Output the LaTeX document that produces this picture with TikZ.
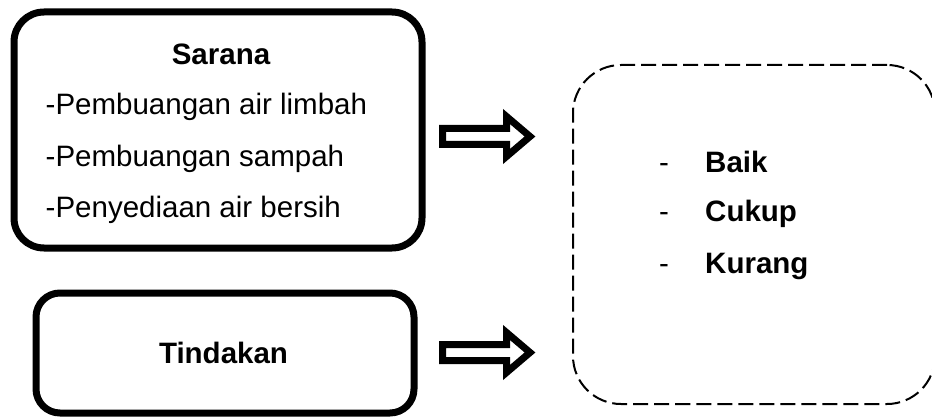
\documentclass[tikz,border=0pt]{standalone}
\usepackage{fontspec}
\setmainfont{Liberation Sans}
\begin{document}
\begin{tikzpicture}[x=1pt,y=-1pt,
  solidbox/.style={draw=black, line width=7pt, rounded corners=#1, inner sep=0pt},
  dashbox/.style={draw=black, line width=2pt, dash pattern=on 15pt off 6pt, rounded corners=48pt, inner sep=0pt},
  txt/.style={font=\fontsize{29.5}{34}\selectfont, inner sep=0pt, anchor=base west},
  btxt/.style={font=\fontsize{29.5}{34}\selectfont\bfseries, inner sep=0pt},
  blockarrow/.style={draw=black, fill=white, line width=7pt, miter limit=10}]
\useasboundingbox (0,0) rectangle (932,417);
% boxes
\node[solidbox=30pt, minimum width=408pt, minimum height=236pt] (sarana) at (218,130) {};
\node[solidbox=24pt, minimum width=378pt, minimum height=120pt] (tindakan) at (225,353) {};
\begin{scope}
\clip (0,0) rectangle (932,417);
\node[dashbox, minimum width=362pt, minimum height=339pt] (hasil) at (754,234.5) {};
\end{scope}
% texts in Sarana
\node[btxt, anchor=base] (t0) at (221,65) {Sarana};
\node[txt] (t1) at (45.5,115) {-Pembuangan air limbah};
\node[txt] (t2) at (45.5,167) {-Pembuangan sampah};
\node[txt] (t3) at (45.5,217) {-Penyediaan air bersih};
\node[btxt, anchor=base] (t4) at (223.5,363) {Tindakan};
% right texts
\node[txt] (d1) at (659,172) {-};
\node[txt] (d2) at (659,222) {-};
\node[txt] (d3) at (659,273) {-};
\node[btxt, anchor=base west] (r1) at (705,172) {Baik};
\node[btxt, anchor=base west] (r2) at (705,222) {Cukup};
\node[btxt, anchor=base west] (r3) at (705,273) {Kurang};
% block arrows
\coordinate (a1) at (442.5,136.5);
\coordinate (a2) at (442.5,352.5);
\foreach \c in {a1,a2}{
  \draw[blockarrow] ([shift={(0,-8)}]\c) -- ++(64,0) -- ++(0,-12) -- ([shift={(87.5,0)}]\c)
    -- ([shift={(64,20)}]\c) -- ++(0,-12) -- ([shift={(0,8)}]\c) -- cycle;
}
\end{tikzpicture}
\end{document}
